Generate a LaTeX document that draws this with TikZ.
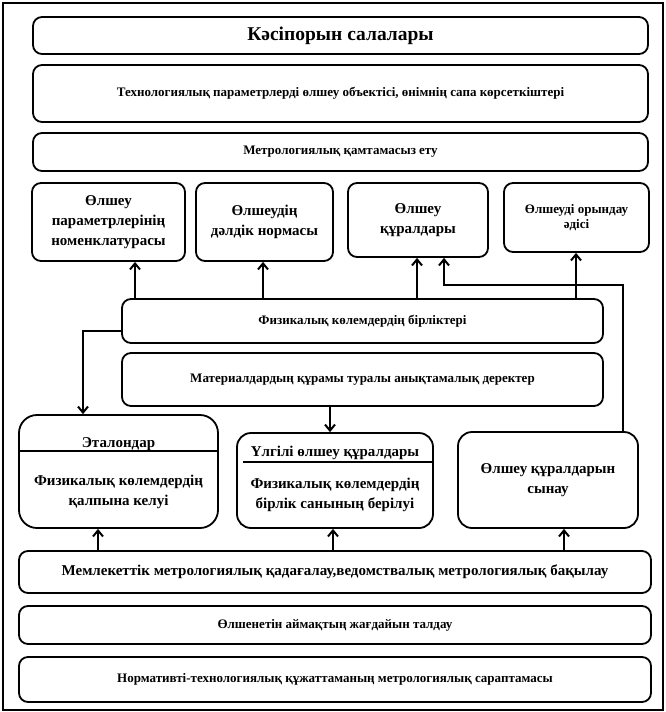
\documentclass[tikz,border=0pt]{standalone}
\usepackage{fontspec}
\setmainfont{Liberation Serif}
\usepackage{tikz}
\usetikzlibrary{arrows.meta}

\begin{document}
\begin{tikzpicture}[x=1pt,y=-1pt,
    box/.style={draw,line width=1.8pt,rounded corners=9pt,align=center,inner sep=0pt,
      font=\bfseries\fontsize{13}{15}\selectfont},
    bigtxt/.style={font=\bfseries\fontsize{15}{20}\selectfont},
    arr/.style={line width=1.8pt,-{Straight Barb[length=6pt,width=10pt,line width=2pt]}},
    divider/.style={line width=1.8pt}]
  \useasboundingbox (0,0) rectangle (665,712);
  \draw[line width=2pt] (2.5,2.5) rectangle (662.5,709.5);
  % top
  \node[box,minimum width=615pt,minimum height=37pt,font=\bfseries\fontsize{19.5}{24}\selectfont]
    (branches) at (340.5,35.5) {Кәсіпорын салалары};
  \node[box,minimum width=615pt,minimum height=57pt] (techparam) at (340.5,93.5)
    {Технологиялық параметрлерді өлшеу объектісі, өнімнің сапа көрсеткіштері};
  \node[box,minimum width=615pt,minimum height=38pt] (metsupport) at (340.5,152)
    {Метрологиялық қамтамасыз ету};
  % row of four
  \node[box,bigtxt,minimum width=153pt,minimum height=78pt] (nomen) at (108.5,222)
    {Өлшеу\\параметрлерінің\\номенклатурасы};
  \node[box,bigtxt,minimum width=137pt,minimum height=78pt] (accuracy) at (264.5,222)
    {Өлшеудің\\дәлдік нормасы};
  \node[box,bigtxt,minimum width=140pt,minimum height=74pt] (instr) at (418,220)
    {Өлшеу\\құралдары};
  \node[box,minimum width=145pt,minimum height=69pt] (method) at (576.5,217.5)
    {Өлшеуді орындау\\әдісі};
  % middle
  \node[box,minimum width=481pt,minimum height=44pt] (units) at (362.5,321)
    {Физикалық көлемдердің бірліктері};
  \node[box,minimum width=481pt,minimum height=53pt] (refdata) at (362.5,379.5)
    {Материалдардың құрамы туралы анықтамалық деректер};
  \node[box,rounded corners=18pt,minimum width=199pt,minimum height=113pt] (etalon) at (118.5,471.5) {};
  \node[box,rounded corners=14pt,minimum width=196pt,minimum height=95pt] (sample) at (335,480.5) {};
  \node[box,bigtxt,rounded corners=14pt,minimum width=180pt,minimum height=96pt] (testing) at (548,480)
    {Өлшеу құралдарын\\сынау};
  \node[bigtxt] (etalontitle) at (118.5,444) {Эталондар};
  \node[bigtxt,align=center] (etalonbody) at (118.5,492) {Физикалық көлемдердің\\қалпына келуі};
  \node[bigtxt] (sampletitle) at (335,453) {Үлгілі өлшеу құралдары};
  \node[bigtxt,align=center] (samplebody) at (335,495) {Физикалық көлемдердің\\бірлік санының берілуі};
  \draw[divider] (etalon.west |- 0,451) -- (etalon.east |- 0,451);
  \draw[divider] (243,462) -- (sample.east |- 0,462);
  % bottom
  \node[box,bigtxt,minimum width=632pt,minimum height=42pt] (supervision) at (335,572)
    {Мемлекеттік метрологиялық қадағалау,ведомствалық метрологиялық бақылау};
  \node[box,minimum width=632pt,minimum height=38pt] (analysis) at (335,625)
    {Өлшенетін аймақтың жағдайын талдау};
  \node[box,minimum width=632pt,minimum height=45pt] (expertise) at (335,679.5)
    {Нормативті-технологиялық құжаттаманың метрологиялық сараптамасы};
  % connectors
  \foreach \xa/\target in {135/nomen,263/accuracy,417/instr,576/method}
    \draw[arr] (units.north -| \xa,0) -- (\target.south -| \xa,0);
  \draw[arr] (testing.north -| 623,0) |- (444,285) -- (instr.south -| 444,0);
  \draw[arr] ([yshift=-10pt]units.west) -| (etalon.north -| 83,0);
  \draw[arr] (refdata.south -| 330,0) -- (sample.north -| 330,0);
  \foreach \xa/\target in {98/etalon,333/sample,564/testing}
    \draw[arr] (supervision.north -| \xa,0) -- (\target.south -| \xa,0);
\end{tikzpicture}
\end{document}
